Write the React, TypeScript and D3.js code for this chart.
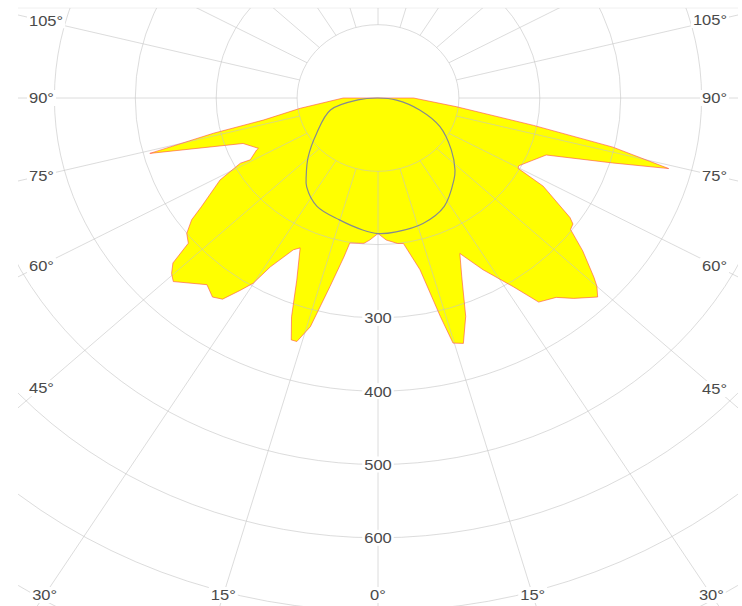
import React from 'react';
import * as d3 from 'd3';

// C0 half (drawn to the right) - gamma in degrees, intensity
const gammaC0 = [0, 3, 7, 9, 12.5, 14.5, 15.5, 17.5, 20, 23, 25.5, 29, 33, 35.5, 39, 41.5, 45, 46.5, 47.5, 50.5, 53, 54.5, 55.5, 59.5, 61, 62, 69.5, 73, 75, 77, 79, 83, 90, 180];
const valuesC0 = [185, 194, 200, 201, 240, 308, 347, 351, 317, 265, 235, 268, 307, 342, 350, 365, 384, 373, 362, 328, 298, 296, 288, 237, 198, 197, 222, 303, 372, 298, 196, 98, 44, 0];

// C180 half (drawn to the left)
const gammaC180 = [0, 3, 5, 10, 11, 13, 15, 16.8, 18, 19.7, 22, 25.2, 26.8, 30, 31.4, 33, 35, 37, 39.7, 45.3, 46.8, 48.4, 49.8, 52, 54.2, 55.8, 60.2, 62.4, 61.9, 64.7, 65.1, 69.6, 75, 76.7, 78, 81.7, 90, 180];
const valuesC180 = [185, 194, 199, 201, 221, 264, 323, 347, 347, 317, 268, 226, 232, 266, 296, 313, 335, 340, 331, 356, 350, 339, 307, 300, 284, 264, 225, 192, 179, 166, 163, 178, 292, 209, 145, 97, 43, 0];

// C90 / C270 plane (grey curve)
const gammaC90 = [0, 7, 18, 29, 40, 44, 52, 63, 72.5, 83, 90];
const valuesC90 = [185, 184, 180, 169, 146, 137, 115, 86, 54, 23, 0];
const gammaC270 = [0, 6, 16, 27, 36, 40, 47, 57.5, 74.5, 84, 90];
const valuesC270 = [185, 181, 173, 166, 150, 138, 118, 90, 61, 25, 0];

const ringValues = [100, 200, 300, 400, 500, 600, 700, 800, 900, 1000];
const ringLabels = [300, 400, 500, 600];
const spokeAngles = [0, 15, 30, 45, 60, 75, 90, 105, 120, 135, 150, 165, 180];
const labelledAngles = [0, 15, 30, 45, 60, 75, 90, 105];

const width = 742;
const height = 606;
const cx = 378;
const cy = 98;
const frame = { left: 18, right: 738, top: 8, bottom: 606 };
const labelBox = { left: 41, right: 716, top: 12, bottom: 595 };
const labelEdge = { left: 29, right: 727 };
const spokeSquash = 0.95;
const fontSize = 15;
const stretch = 1.1;

const rx = d3.scaleLinear().domain([0, 100]).range([0, 80.9]);
const ry = d3.scaleLinear().domain([0, 100]).range([0, 73.3]);
const rad = d3.scaleLinear().domain([0, 180]).range([0, Math.PI]);

const toXY = (g: number, v: number, side: number): [number, number] => {
  const a = rad(g);
  return [cx + side * rx(v) * Math.sin(a), cy + ry(v) * Math.cos(a)];
};

const spokeDir = (g: number, side: number): [number, number] => {
  const a = rad(g);
  return [side * rx(1) * Math.sin(a), ry(1) * spokeSquash * Math.cos(a)];
};

const halfPoints = (gs: number[], vs: number[], side: number) => gs.map((g, i) => toXY(g, vs[i], side));

const labelFont = '"Liberation Sans", Arial, Helvetica, sans-serif';

// rough text width, Arial-like digits plus degree sign
const textWidth = (text: string) =>
  text.split('').reduce((w, c) => w + (c === '°' ? 0.4 : 0.556), 0) * fontSize * stretch;

const Label = ({ x, y, text, anchor }: { x: number; y: number; text: string; anchor: string }) => {
  const w = textWidth(text) + 4;
  const x0 = anchor === 'start' ? x - 2 : anchor === 'end' ? x - w + 2 : x - w / 2;
  return (
    <g>
      <rect x={x0} y={y - 8} width={w} height={16} fill="#fff" />
      <text
        transform={`translate(${x},${y}) scale(${stretch},1)`}
        dy="0.36em"
        textAnchor={anchor}
      >
        {text}
      </text>
    </g>
  );
};

const App = () => {
  const line = d3.line().curve(d3.curveLinearClosed);
  const smooth = d3.line().curve(d3.curveCatmullRomClosed.alpha(0.5));

  const beam = [
    ...halfPoints(gammaC0, valuesC0, 1),
    ...halfPoints(gammaC180, valuesC180, -1).reverse(),
  ];
  const plane90 = [
    ...halfPoints(gammaC90, valuesC90, 1),
    ...halfPoints(gammaC270, valuesC270, -1).reverse().slice(1, -1),
  ];

  const spokes: { x1: number; y1: number; x2: number; y2: number }[] = [];
  spokeAngles.forEach(g => {
    const sides = g === 0 || g === 180 ? [1] : [-1, 1];
    sides.forEach(side => {
      const [dx, dy] = spokeDir(g, side);
      const a = rad(g);
      const t0 = 100 / Math.sqrt(Math.sin(a) ** 2 + (spokeSquash * Math.cos(a)) ** 2);
      spokes.push({ x1: cx + dx * t0, y1: cy + dy * t0, x2: cx + dx * 3000, y2: cy + dy * 3000 });
    });
  });

  const angleLabels: { x: number; y: number; text: string; anchor: string }[] = [];
  labelledAngles.forEach(g => {
    const sides = g === 0 ? [1] : [-1, 1];
    sides.forEach(side => {
      const [dx, dy] = spokeDir(g, side);
      const hits: { t: number; edge: string }[] = [];
      if (dx < 0) hits.push({ t: (labelBox.left - cx) / dx, edge: 'left' });
      if (dx > 0) hits.push({ t: (labelBox.right - cx) / dx, edge: 'right' });
      if (dy > 0) hits.push({ t: (labelBox.bottom - cy) / dy, edge: 'bottom' });
      if (dy < 0) hits.push({ t: (labelBox.top - cy) / dy, edge: 'top' });
      const hit = hits.reduce((a, b) => (b.t < a.t ? b : a));
      const y = cy + dy * hit.t;
      const text = `${g}°`;
      if (hit.edge === 'left') angleLabels.push({ x: labelEdge.left, y, text, anchor: 'start' });
      else if (hit.edge === 'right') angleLabels.push({ x: labelEdge.right, y, text, anchor: 'end' });
      else angleLabels.push({ x: cx + dx * hit.t, y, text, anchor: 'middle' });
    });
  });

  return (
    <svg
      width={width}
      height={height}
      style={{ position: 'absolute', left: 0, top: 0, background: '#fff' }}
    >
      <defs>
        <clipPath id="frame">
          <rect x={frame.left} y={frame.top} width={frame.right - frame.left} height={frame.bottom - frame.top} />
        </clipPath>
      </defs>
      <rect width={width} height={height} fill="#fff" />
      <line x1={frame.left} x2={frame.right} y1={frame.top} y2={frame.top} stroke="#f0f0f0" />

      <path d={line(beam) ?? ''} fill="#ffff00" stroke="none" />

      <g clipPath="url(#frame)" fill="none" stroke="#c4c4c4" strokeOpacity={0.6} strokeWidth={1}>
        {ringValues.map(v => (
          <ellipse key={v} cx={cx} cy={cy} rx={rx(v)} ry={ry(v)} />
        ))}
        {spokes.map((s, i) => (
          <line key={i} x1={s.x1} y1={s.y1} x2={s.x2} y2={s.y2} />
        ))}
      </g>

      <path d={line(beam) ?? ''} fill="none" stroke="#ff4a4a" strokeOpacity={0.75} strokeWidth={0.8} />
      <path d={smooth(plane90) ?? ''} fill="none" stroke="#858a90" strokeWidth={1.2} />

      <g fontFamily={labelFont} fontSize={fontSize} fill="#4a4a4a">
        {ringLabels.map(v => (
          <Label key={v} x={cx} y={cy + ry(v)} text={String(v)} anchor="middle" />
        ))}
        {angleLabels.map((l, i) => (
          <Label key={i} x={l.x} y={l.y} text={l.text} anchor={l.anchor} />
        ))}
      </g>
    </svg>
  );
};

export default App;
